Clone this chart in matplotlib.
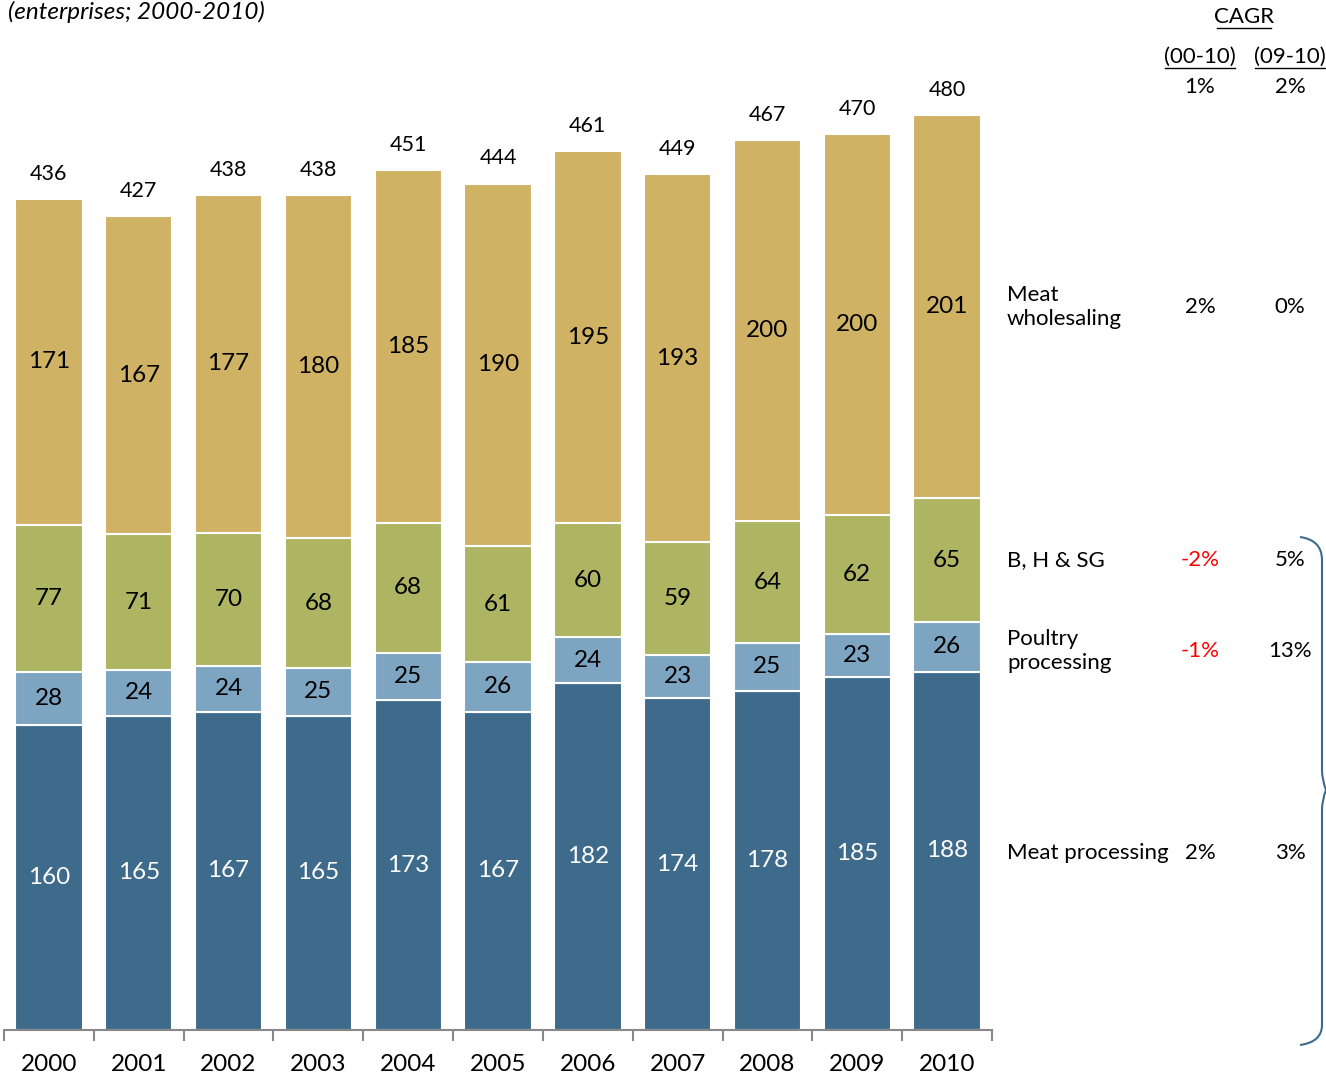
import matplotlib.pyplot as plt
from matplotlib.path import Path
from matplotlib.patches import PathPatch

plt.rcParams["font.family"] = ["Lato", "DejaVu Sans"]

years = ["2000", "2001", "2002", "2003", "2004", "2005",
         "2006", "2007", "2008", "2009", "2010"]
meat_processing = [160, 165, 167, 165, 173, 167, 182, 174, 178, 185, 188]
poultry = [28, 24, 24, 25, 25, 26, 24, 23, 25, 23, 26]
bhsg = [77, 71, 70, 68, 68, 61, 60, 59, 64, 62, 65]
wholesaling = [171, 167, 177, 180, 185, 190, 195, 193, 200, 200, 201]
totals = [436, 427, 438, 438, 451, 444, 461, 449, 467, 470, 480]

series_names = ["Meat processing", "Poultry\nprocessing", "B, H & SG", "Meat\nwholesaling"]
cagr_00_10 = ["2%", "-1%", "-2%", "2%"]
cagr_09_10 = ["3%", "13%", "5%", "0%"]
cagr_total = ("1%", "2%")

colors = ["#3E6B8B", "#7DA5C1", "#ADB462", "#D0B264"]
text_colors = ["white", "black", "black", "black"]

W, H = 1326, 1077
fig = plt.figure(figsize=(W / 100, H / 100), dpi=100)

ax = fig.add_axes([4 / W, (H - 1030) / H, (992 - 4) / W, (1030 - 60) / H])
x = list(range(len(years)))
bottom = [0] * len(years)
for vals, col, tcol in zip([meat_processing, poultry, bhsg, wholesaling], colors, text_colors):
    bars = ax.bar(x, vals, 0.75, bottom=bottom, color=col, edgecolor="white", linewidth=1.5)
    for b, v in zip(bars, vals):
        ax.text(b.get_x() + b.get_width() / 2, b.get_y() + v / 2, str(v),
                ha="center", va="center", fontsize=17.5, color=tcol)
    bottom = [b + v for b, v in zip(bottom, vals)]

for xi, t, b in zip(x, totals, bottom):
    ax.text(xi, b + 8, str(t), ha="center", va="bottom", fontsize=15.5)

ax.set_xlim(-0.5, len(years) - 0.5)
ax.set_ylim(0, 970 / 1.906)
for s in ["top", "right", "left"]:
    ax.spines[s].set_visible(False)
ax.spines["bottom"].set_color("#888888")
ax.spines["bottom"].set_linewidth(1.5)
ax.set_yticks([])
ax.set_xticks(x)
ax.set_xticklabels(years, fontsize=17.5)
ax.tick_params(axis="x", which="major", length=0, pad=17)
ax.set_xticks([i - 0.5 for i in range(len(years) + 1)], minor=True)
ax.tick_params(axis="x", which="minor", length=8, width=1.5, color="#888888")

# overlay in pixel coordinates for side annotations
ov = fig.add_axes([0, 0, 1, 1])
ov.set_xlim(0, W)
ov.set_ylim(H, 0)
ov.axis("off")

ov.text(8, 12, "(enterprises; 2000-2010)", fontsize=17.5, style="italic", ha="left", va="center")


def underlined(xc, yc, s, w):
    ov.text(xc, yc, s, ha="center", va="center", fontsize=16)
    ov.plot([xc - w / 2, xc + w / 2], [yc + 11, yc + 11], color="black", lw=1)


underlined(1244, 17, "CAGR", 54)
underlined(1200, 57, "(00-10)", 70)
underlined(1290, 57, "(09-10)", 70)
ov.text(1200, 87, cagr_total[0], ha="center", va="center", fontsize=16)
ov.text(1290, 87, cagr_total[1], ha="center", va="center", fontsize=16)

row_y = [853, 651, 560, 307]
for name, c1, c2, yy in zip(series_names, cagr_00_10, cagr_09_10, row_y):
    ov.text(1007, yy, name, ha="left", va="center", fontsize=16, linespacing=1.25)
    ov.text(1200, yy, c1, ha="center", va="center", fontsize=16,
            color="red" if c1.startswith("-") else "black")
    ov.text(1290, yy, c2, ha="center", va="center", fontsize=16)

# curly brace
verts = [(1300, 537), (1322, 540), (1322, 560),
         (1322, 770), (1322, 780), (1326, 790),
         (1322, 800), (1322, 810),
         (1322, 1025), (1322, 1042), (1300, 1045)]
codes = [Path.MOVETO, Path.CURVE3, Path.CURVE3,
         Path.LINETO, Path.CURVE3, Path.CURVE3,
         Path.CURVE3, Path.CURVE3,
         Path.LINETO, Path.CURVE3, Path.CURVE3]
ov.add_patch(PathPatch(Path(verts, codes), fill=False, edgecolor="#3E6B8B", lw=1.5))

fig.savefig("out.png", dpi=100)
